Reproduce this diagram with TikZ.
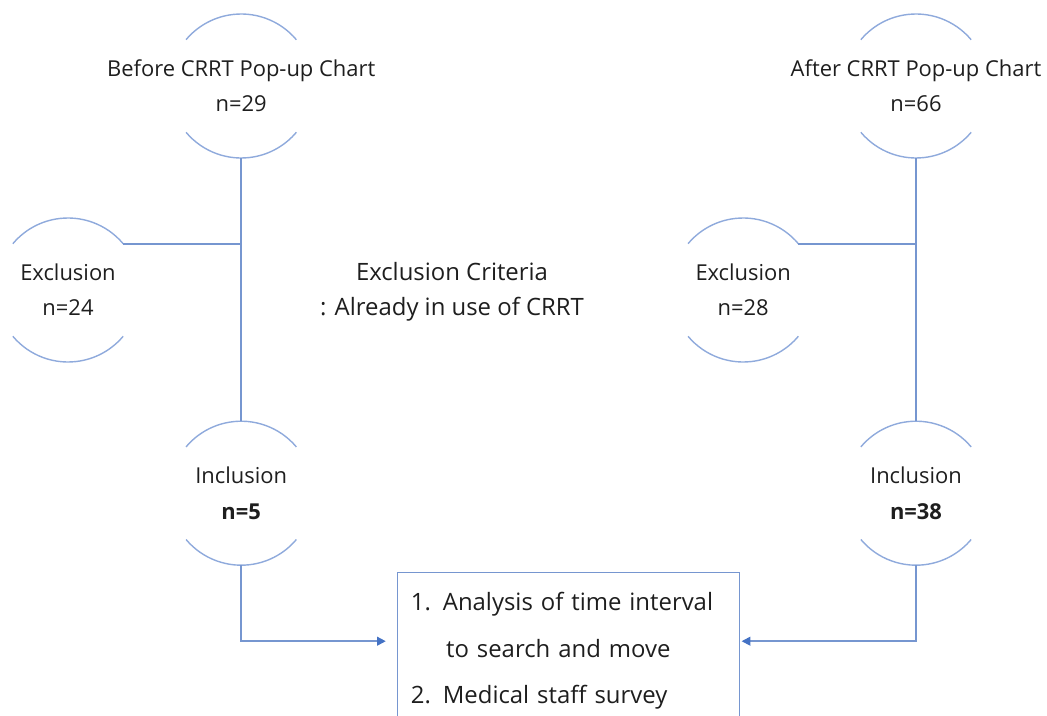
\documentclass[tikz,border=0pt]{standalone}
\usepackage{fontspec}
\setmainfont{Open Sans}
\usepackage{tikz}
\usetikzlibrary{positioning,arrows.meta,calc}
\definecolor{ArcBlue}{RGB}{143,170,220}
\definecolor{LineBlue}{RGB}{118,150,208}
\definecolor{TipBlue}{RGB}{68,114,196}
\definecolor{DarkText}{RGB}{30,30,30}

\begin{document}
\begin{tikzpicture}[
    ring/.style={circle, minimum size=3.6cm, inner sep=0pt, outer sep=0pt},
    tag/.style={align=center, font=\fontsize{15.6}{25}\selectfont, text=DarkText},
    note/.style={align=center, font=\fontsize{17}{25}\selectfont, text=DarkText},
    task/.style={rectangle, draw=LineBlue, line width=1pt, anchor=north west,
        text width=7.89cm, align=left, inner xsep=0.33cm, inner ysep=0.5cm,
        font=\fontsize{17}{33}\selectfont, text=DarkText},
    rim/.style={draw=ArcBlue, line width=1pt},
    link/.style={draw=LineBlue, line width=1.2pt},
    flow/.style={link, -{Triangle[length=2.2mm, width=2.2mm, color=TipBlue]}},
]
\useasboundingbox (0,0) rectangle (26.175,-17.9);

% before / after cohorts
\node[ring, label={[tag]center:Before CRRT Pop-up Chart\\n=29}] (pre) at (6.03,-2.15) {};
\node[ring, label={[tag]center:After CRRT Pop-up Chart\\n=66}] (post) at (22.9,-2.15) {};
\node[ring, label={[tag]center:Exclusion\\n=24}] (excA) at (1.7,-7.25) {};
\node[ring, label={[tag]center:Exclusion\\n=28}] (excB) at (18.58,-7.25) {};
\node[ring, below=6.58cm of pre, label={[tag]center:Inclusion\\\textbf{n=5}}] (incA) {};
\node[ring, below=6.58cm of post, label={[tag]center:Inclusion\\\textbf{n=38}}] (incB) {};

\node[note] (crit) at (11.3,-7.3) {Exclusion Criteria\\: Already in use of CRRT};

\node[task] (plan) at (9.925,-14.3) {1. Analysis of time interval\\\hspace*{0.88cm}to search and move\\2. Medical staff survey};

\foreach \n in {pre,post,excA,excB,incA,incB} {
    \draw[rim] (\n.40) arc[start angle=40, end angle=140, radius=1.8cm];
    \draw[rim] (\n.220) arc[start angle=220, end angle=320, radius=1.8cm];
}

\coordinate (tipA) at ($(plan.north west)+(-0.28,-1.73)$);
\coordinate (tipB) at ($(plan.north east)+(0.03,-1.73)$);

\draw[link] (pre.south) -- (incA.north);
\draw[link] (post.south) -- (incB.north);
\draw[link] (excA.40) -- (excA.40 -| pre.south);
\draw[link] (excB.40) -- (excB.40 -| post.south);
\draw[flow] (incA.south) |- (tipA);
\draw[flow] (incB.south) |- (tipB);
\end{tikzpicture}
\end{document}
